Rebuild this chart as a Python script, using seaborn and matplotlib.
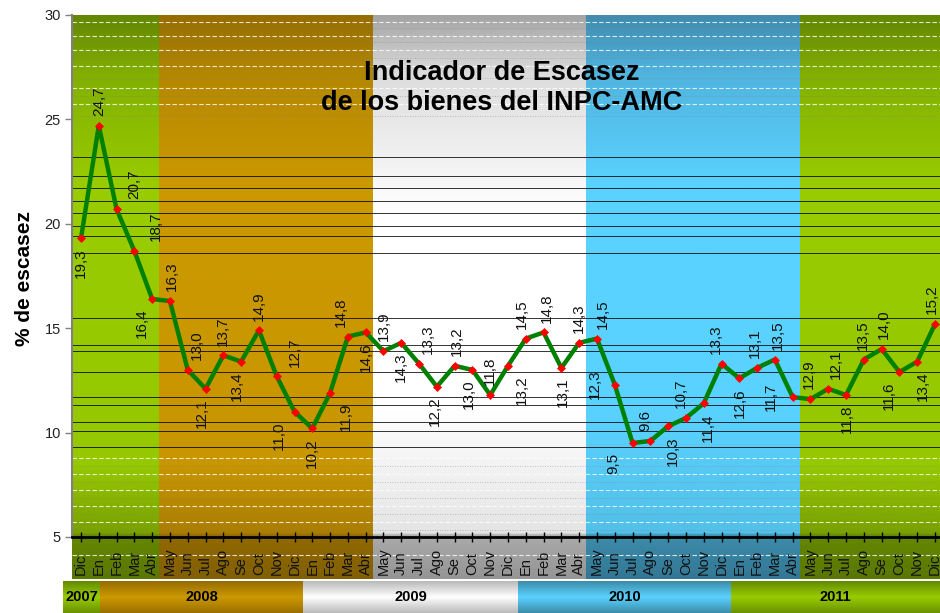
import numpy as np
import pandas as pd
import matplotlib
matplotlib.use("Agg")
import matplotlib.pyplot as plt
import matplotlib.transforms as mtransforms
from matplotlib.colors import LinearSegmentedColormap
import seaborn as sns

# ---------------- data ----------------
months = ["Dic"] + ["En", "Feb", "Mar", "Abr", "May", "Jun", "Jul", "Ago", "Se", "Oct", "Nov", "Dic"] * 4
values = [19.3, 24.7, 20.7, 18.7, 16.4,
          16.3, 13.0, 12.1, 13.7, 13.4, 14.9, 12.7, 11.0, 10.2, 11.9, 14.6, 14.8,
          13.9, 14.3, 13.3, 12.2, 13.2, 13.0, 11.8, 13.2, 14.5, 14.8, 13.1, 14.3,
          14.5, 12.3, 9.5, 9.6, 10.3, 10.7, 11.4, 13.3, 12.6, 13.1, 13.5, 11.7,
          11.6, 12.1, 11.8, 13.5, 14.0, 12.9, 13.4, 15.2]
label_text = ["19,3", "24,7", "20,7", "18,7", "16,4",
              "16,3", "13,0", "12,1", "13,7", "13,4", "14,9", "12,7", "11,0", "10,2", "11,9", "14,8", "14,6",
              "13,9", "14,3", "13,3", "12,2", "13,2", "13,0", "11,8", "13,2", "14,5", "14,8", "13,1", "14,3",
              "14,5", "12,3", "9,5", "9,6", "10,3", "10,7", "11,4", "13,3", "12,6", "13,1", "13,5", "11,7",
              "12,9", "12,1", "11,8", "13,5", "14,0", "11,6", "13,4", "15,2"]
years = ["2007", "2008", "2009", "2010", "2011"]
yticks = [5, 10, 15, 20, 25, 30]

# ---------------- layout / style ----------------
label_side = list("baaabaababaabbbab" "ababababaaba" "acbabababaac" "aabaabba")
label_dx = [0, 0, 1.0, 1.2, -0.6,
            0.1, 0.5, -0.2, 0, -0.25, 0, 1.0, -0.9, 0, 0.9, -0.4, 0,
            0, 0, 0.5, -0.1, 0.15, -0.2, 0, 0.8, -0.2, 0.2, 0.1, 0,
            0.35, -1.1, -1.1, -0.3, 0.25, -0.3, 0.25, -0.3, 0.05, -0.15, 0.15, -1.2,
            -0.1, 0.4, 0.05, -0.05, 0.1, -0.6, 0.3, -0.2]
band_bounds = [-0.506, 4.4, 16.4, 28.4, 40.4, 48.28]
year_bounds = [-1.012, 1.07, 12.48, 24.56, 36.54, 48.28]

green_stops = [(0.0, (90, 120, 0)), (0.074, (100, 135, 0)), (0.077, (120, 160, 0)), (0.2, (150, 200, 0)),
               (0.7, (153, 204, 0)), (0.9, (130, 175, 0)), (1.0, (100, 135, 0))]
brown_stops = [(0.0, (130, 95, 0)), (0.074, (145, 105, 0)), (0.077, (170, 125, 0)), (0.2, (200, 150, 0)),
               (0.7, (204, 153, 0)), (0.9, (180, 135, 0)), (1.0, (150, 110, 0))]
white_stops = [(0.0, (150, 150, 150)), (0.074, (170, 170, 170)), (0.077, (228, 228, 228)), (0.3, (255, 255, 255)),
               (0.65, (255, 255, 255)), (0.9, (220, 220, 220)), (1.0, (165, 165, 165))]
blue_stops = [(0.0, (50, 120, 150)), (0.074, (60, 140, 170)), (0.077, (82, 192, 232)), (0.3, (90, 210, 255)),
              (0.7, (90, 210, 255)), (0.9, (80, 180, 222)), (1.0, (65, 140, 175))]
band_stops = [green_stops, brown_stops, white_stops, blue_stops, green_stops]

yb_green = [(0, (105, 145, 0)), (0.5, (153, 204, 0)), (1, (100, 138, 0))]
yb_brown = [(0, (155, 112, 0)), (0.5, (204, 153, 0)), (1, (150, 108, 0))]
yb_white = [(0, (185, 185, 185)), (0.5, (255, 255, 255)), (1, (185, 185, 185))]
yb_blue = [(0, (60, 140, 170)), (0.5, (90, 210, 255)), (1, (60, 140, 170))]
year_stops = [yb_green, yb_brown, yb_white, yb_blue, yb_green]

# decorative horizontal streaks seen in the reference background
dark_streaks = [23.2, 22.3, 21.7, 21.1, 20.5, 19.9, 19.4, 18.6, 15.5, 14.2, 13.9, 12.9, 11.7, 11.3, 10.5, 10.1, 9.3]
light_streaks = [29.66, 29.38, 28.99, 28.71, 28.32, 27.94, 27.56, 26.98, 26.5, 26.11, 25.74, 25.14,
                 8.78, 8.4, 8.02, 7.63, 7.25, 6.87, 6.48, 6.1, 5.72, 5.34, 4.14, 3.47]


def cmap_from(stops):
    return LinearSegmentedColormap.from_list(
        "c", [(p, tuple(c / 255 for c in col)) for p, col in stops])


sns.set_theme(style="white")
plt.rcParams["font.family"] = ["Liberation Sans", "DejaVu Sans"]

W, H = 940, 613
fig = plt.figure(figsize=(W / 100, H / 100), dpi=100)


def rect(l, t, r, b):
    return [l / W, 1 - b / H, (r - l) / W, (b - t) / H]


# background bands (extend under the tick labels)
ybot = 2.99
bg = fig.add_axes(rect(72, 15, 940, 579))
for k in range(len(band_stops)):
    cm = cmap_from(band_stops[k])
    grad = cm(np.linspace(0, 1, 300))[:, None, :]
    bg.imshow(grad, extent=(band_bounds[k], band_bounds[k + 1], ybot, 30),
              origin="lower", aspect="auto", interpolation="bilinear")
for j, yv in enumerate(dark_streaks):
    bg.axhline(yv, color="black", lw=0.7, alpha=0.8)
for j, yv in enumerate(light_streaks):
    if j % 2 == 0:
        bg.axhline(yv, color="white", lw=0.8, alpha=0.8, ls=(0, (4, 2)))
    else:
        bg.axhline(yv, color="#7f7f7f", lw=0.6, alpha=0.6, ls=(0, (1, 2)))
bg.set_xlim(band_bounds[0], band_bounds[-1])
bg.set_ylim(ybot, 30)
bg.axis("off")

# main axes
ax = fig.add_axes(rect(72, 15, 940, 537))
ax.patch.set_alpha(0)
idx = np.arange(len(values))
df = pd.DataFrame({"idx": idx, "val": values})
sns.lineplot(data=df, x="idx", y="val", ax=ax, color="#008000", lw=3.2,
             marker="D", markersize=4.5, markerfacecolor="#FF0000",
             markeredgecolor="#FF0000", markeredgewidth=0.5, zorder=3)
ax.set_xlim(band_bounds[0], band_bounds[-1])
ax.set_ylim(5, 30)
ax.set_xlabel("")
ax.set_ylabel("")
ax.set_yticks(yticks)
ax.set_yticklabels([str(v) for v in yticks])
ax.tick_params(axis="y", direction="out", length=5, width=1, color="#808080",
               labelsize=10.5, pad=3, labelcolor="#222222", left=True)
ax.set_xticks(idx)
ax.set_xticklabels([])
ax.tick_params(axis="x", direction="inout", length=7, width=1, color="black", bottom=True)
for s in ["top", "right"]:
    ax.spines[s].set_visible(False)
ax.spines["left"].set_color("#808080")
ax.spines["left"].set_linewidth(1.5)
ax.spines["bottom"].set_color("black")
ax.spines["bottom"].set_linewidth(2)

# data labels
for i, (v, t) in enumerate(zip(values, label_text)):
    side = label_side[i]
    if side == "a":
        off, va = 7, "bottom"
    elif side == "b":
        off, va = -7, "top"
    else:
        off, va = 0, "center"
    ax.annotate(t, (i + label_dx[i], v), xytext=(0, off), textcoords="offset points",
                rotation=90, ha="center", va=va, fontsize=11, color="#111111", zorder=4)

# month labels
trans = mtransforms.blended_transform_factory(ax.transData, ax.transAxes)
for i, m in enumerate(months):
    ax.text(i, -0.0728, m, transform=trans, rotation=90, ha="center", va="bottom",
            fontsize=10.5, color="#111111", clip_on=False)

# title
ax.text(0.495, 0.86, "Indicador de Escasez\nde los bienes del INPC-AMC", transform=ax.transAxes,
        ha="center", va="center", fontsize=19.5, fontweight="bold", color="black",
        linespacing=1.2, zorder=5)

# y label
fig.text(25 / W, 1 - 278 / H, "% de escasez", rotation=90, ha="center", va="center",
         fontsize=15, fontweight="bold", color="black")

# year bar
yb = fig.add_axes(rect(63, 581, 940, 613))
for k in range(len(years)):
    cm = cmap_from(year_stops[k])
    grad = cm(np.linspace(0, 1, 100))[:, None, :]
    yb.imshow(grad, extent=(year_bounds[k], year_bounds[k + 1], 0, 1),
              origin="lower", aspect="auto", interpolation="bilinear")
    yb.text((year_bounds[k] + year_bounds[k + 1]) / 2, 0.5, years[k], ha="center", va="center",
            fontsize=10.5, fontweight="bold", color="black")
yb.set_xlim(year_bounds[0], year_bounds[-1])
yb.set_ylim(0, 1)
yb.axis("off")

fig.savefig("out.png", dpi=100)
